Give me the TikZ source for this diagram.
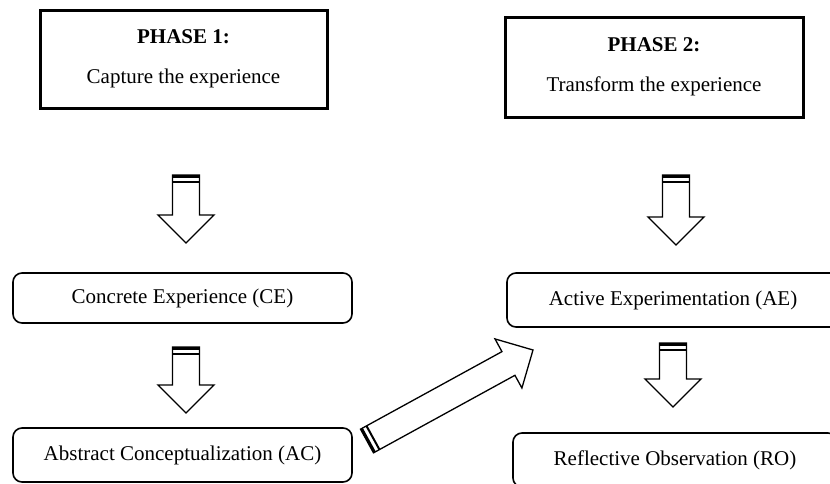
\documentclass[tikz,border=0pt]{standalone}
\usepackage{fontspec}
\setmainfont{Liberation Serif}
\usepackage{tikz}
\usetikzlibrary{calc}

\tikzset{
  phasebox/.style={draw, line width=3pt, inner sep=0pt, align=center,
    font=\fontsize{21}{40}\selectfont},
  stagebox/.style={draw, line width=1.6pt, rounded corners=9pt, inner sep=0pt,
    font=\fontsize{21}{24}\selectfont},
  blockline/.style={draw, line width=1.3pt, fill=white, line join=miter}
}

% block arrow from tail #1 to tip #2
\newcommand{\blockarrow}[2]{%
  \path let \p1=($(#2)-(#1)$) in
    \pgfextra{\pgfmathparse{atan2(\y1,\x1)}\xdef\arrang{\pgfmathresult}%
              \pgfmathparse{veclen(\x1,\y1)}\xdef\arrlen{\pgfmathresult}};
  \begin{scope}[shift={(#1)}, rotate=\arrang, x=1pt, y=1pt]
    \draw[blockline] (0,-13.5) -- ({\arrlen-28},-13.5) -- ({\arrlen-28},-28) -- (\arrlen,0)
      -- ({\arrlen-28},28) -- ({\arrlen-28},13.5) -- (0,13.5) -- cycle;
    \draw[line width=2.6pt] (1.3,-13.5) -- (1.3,13.5);
    \draw[line width=2pt] (6.8,-13.5) -- (6.8,13.5);
  \end{scope}
}

\begin{document}
\begin{tikzpicture}[x=1pt, y=-1pt]
  \useasboundingbox (0,0) rectangle (830,483);

  % phases
  \node[phasebox, minimum width=287, minimum height=98] (ph1) at (183.5,59)
    {\textbf{PHASE 1:}\\Capture the experience};
  \node[phasebox, minimum width=298, minimum height=100] (ph2) at (654,67)
    {\textbf{PHASE 2:}\\Transform the experience};

  % stages
  \node[stagebox, minimum width=339, minimum height=50] (ce) at (182.5,298) {Concrete Experience (CE)};
  \node[stagebox, minimum width=339, minimum height=54] (ac) at (182.5,455) {Abstract Conceptualization (AC)};
  \node[stagebox, minimum width=332, minimum height=54] (ae) at (673,300) {Active Experimentation (AE)};
  \node[stagebox, minimum width=324, minimum height=54] (ro) at (675,460) {Reflective Observation (RO)};

  % arrow ends
  \coordinate (a1) at (186,175);
  \coordinate (b1) at (186,243);
  \coordinate (a2) at (186,347);
  \coordinate (b2) at (186,413);
  \coordinate (a3) at (676,175);
  \coordinate (b3) at (676,245);
  \coordinate (a4) at (673,343);
  \coordinate (b4) at (673,407);
  \coordinate (a5) at (367,441);
  \coordinate (b5) at (533,350);

  \blockarrow{a1}{b1}
  \blockarrow{a2}{b2}
  \blockarrow{a3}{b3}
  \blockarrow{a4}{b4}
  \blockarrow{a5}{b5}
\end{tikzpicture}
\end{document}
